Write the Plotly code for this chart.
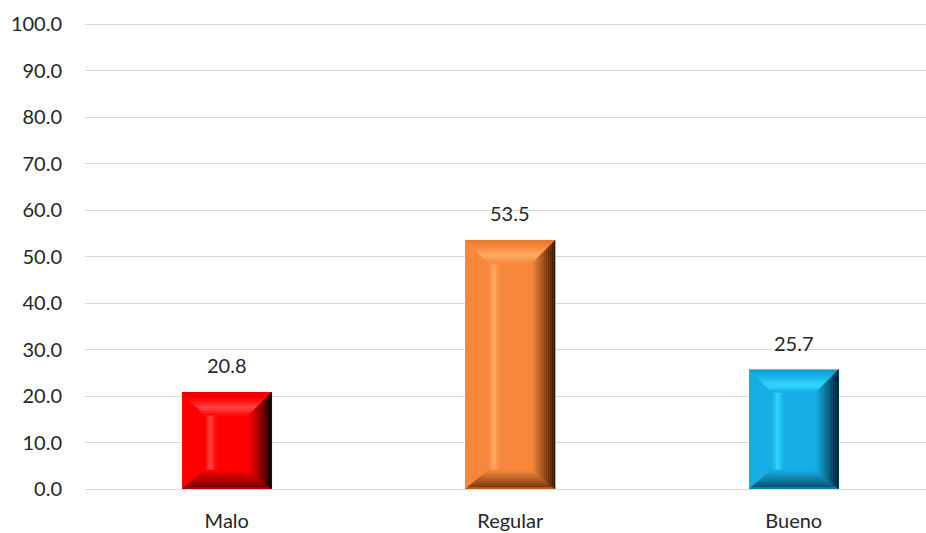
import plotly.graph_objects as go

categories = ["Malo", "Regular", "Bueno"]
values = [20.8, 53.5, 25.7]
y_ticks = [0, 10, 20, 30, 40, 50, 60, 70, 80, 90, 100]

main_colors = ["#FF0000", "#F7883B", "#17AEE6"]
edge_colors = ["#E00000", "#E07530", "#1299CC"]
top_colors = ["#FF4A4A", "#FFAD6A", "#33DAFF"]
bottom_colors = ["#6E0000", "#7A3A10", "#0B5570"]
right_colors = ["#000000", "#2A1405", "#00131C"]

BAR_W = 0.317
PX_X = 283.5   # pixels per category unit
PX_Y = 4.66    # pixels per y unit
L_MARGIN = 85
FIG_W = 926
FIG_H = 533


def hex2rgb(h):
    h = h.lstrip("#")
    return tuple(int(h[i:i + 2], 16) for i in (0, 2, 4))


def lerp_col(c1, c2, t):
    a, b = hex2rgb(c1), hex2rgb(c2)
    return "rgb(%d,%d,%d)" % tuple(round(a[i] + (b[i] - a[i]) * t) for i in range(3))


def lerp(p, q, t):
    return (p[0] + (q[0] - p[0]) * t, p[1] + (q[1] - p[1]) * t)


def band(outer1, outer2, inner1, inner2, stops, n, shapes):
    """stops: list of (t, color) from outer (0) to inner (1)."""
    def col_at(t):
        for (ta, ca), (tb, cb) in zip(stops[:-1], stops[1:]):
            if ta <= t <= tb:
                return lerp_col(ca, cb, (t - ta) / (tb - ta) if tb > ta else 0)
        return lerp_col(stops[-1][1], stops[-1][1], 0)
    for k in range(n):
        t0, t1 = k / n, (k + 1) / n
        p1, p2 = lerp(outer1, inner1, t0), lerp(outer2, inner2, t0)
        p3, p4 = lerp(outer2, inner2, t1), lerp(outer1, inner1, t1)
        path = "M %f,%f L %f,%f L %f,%f L %f,%f Z" % (*p1, *p2, *p3, *p4)
        shapes.append(dict(type="path", path=path, xref="x", yref="y",
                           fillcolor=col_at((k + 0.5) / n),
                           line=dict(width=0.3, color=col_at((k + 0.5) / n)),
                           layer="above"))


fig = go.Figure()
fig.add_trace(go.Bar(
    x=list(range(len(categories))), y=values, width=BAR_W,
    marker=dict(color=main_colors, line=dict(width=0)),
    hoverinfo="skip", showlegend=False,
))

shapes = []
for i, v in enumerate(values):
    xl, xr = i - BAR_W / 2, i + BAR_W / 2
    dx = 23 / PX_X
    dyt = 23 / PX_Y
    dyb = 19 / PX_Y
    y0, y1 = 0.0, v
    ixl, ixr = xl + dx, xr - dx
    iy0, iy1 = y0 + dyb, y1 - dyt
    mc = main_colors[i]
    # inner face light stripe near left
    band((ixl, iy0), (ixl, iy1), (ixl + 12 / PX_X, iy0), (ixl + 12 / PX_X, iy1),
         [(0, mc), (0.5, top_colors[i]), (1, mc)], 6, shapes)
    # top bevel
    band((xl, y1), (xr, y1), (ixl, iy1), (ixr, iy1),
         [(0, edge_colors[i]), (0.25, mc), (0.7, top_colors[i]), (1, mc)], 10, shapes)
    # bottom bevel
    band((xl, y0), (xr, y0), (ixl, iy0), (ixr, iy0),
         [(0, edge_colors[i]), (0.15, bottom_colors[i]), (1, mc)], 9, shapes)
    # right bevel (dark gradient)
    band((xr, y0), (xr, y1), (ixr, iy0), (ixr, iy1),
         [(0, right_colors[i]), (0.35, bottom_colors[i]), (1, mc)], 12, shapes)

annotations = [
    dict(x=i, y=v, xref="x", yref="y", text=f"{v:.1f}", showarrow=False,
         yanchor="middle", yshift=27,
         font=dict(family="Lato, 'Open Sans', sans-serif", size=20, color="#262626"))
    for i, v in enumerate(values)
]

fig.update_layout(
    width=FIG_W, height=FIG_H,
    margin=dict(l=L_MARGIN, r=0, t=23, b=44, autoexpand=False),
    paper_bgcolor="white", plot_bgcolor="white",
    shapes=shapes, annotations=annotations,
    font=dict(family="Lato, 'Open Sans', sans-serif", size=20, color="#262626"),
    xaxis=dict(range=[-0.5, -0.5 + (FIG_W - L_MARGIN) / PX_X],
               tickvals=list(range(len(categories))),
               ticktext=categories, showgrid=False, zeroline=False, showline=False,
               ticks="", ticklen=0, ticklabelstandoff=18,
               tickfont=dict(size=20, color="#262626")),
    yaxis=dict(range=[0, 100.25], tickvals=y_ticks, tickformat=".1f",
               showgrid=True, gridcolor="#D9D9D9", gridwidth=1,
               zeroline=True, zerolinecolor="#D9D9D9", zerolinewidth=1,
               showline=False, ticks="", ticklen=0, ticklabelstandoff=22,
               tickfont=dict(size=20, color="#262626")),
    bargap=0,
)

fig.write_html("out.html",
               config={"displayModeBar": False, "staticPlot": True},
               post_script="document.body.style.margin='0';document.body.style.overflow='hidden';")
